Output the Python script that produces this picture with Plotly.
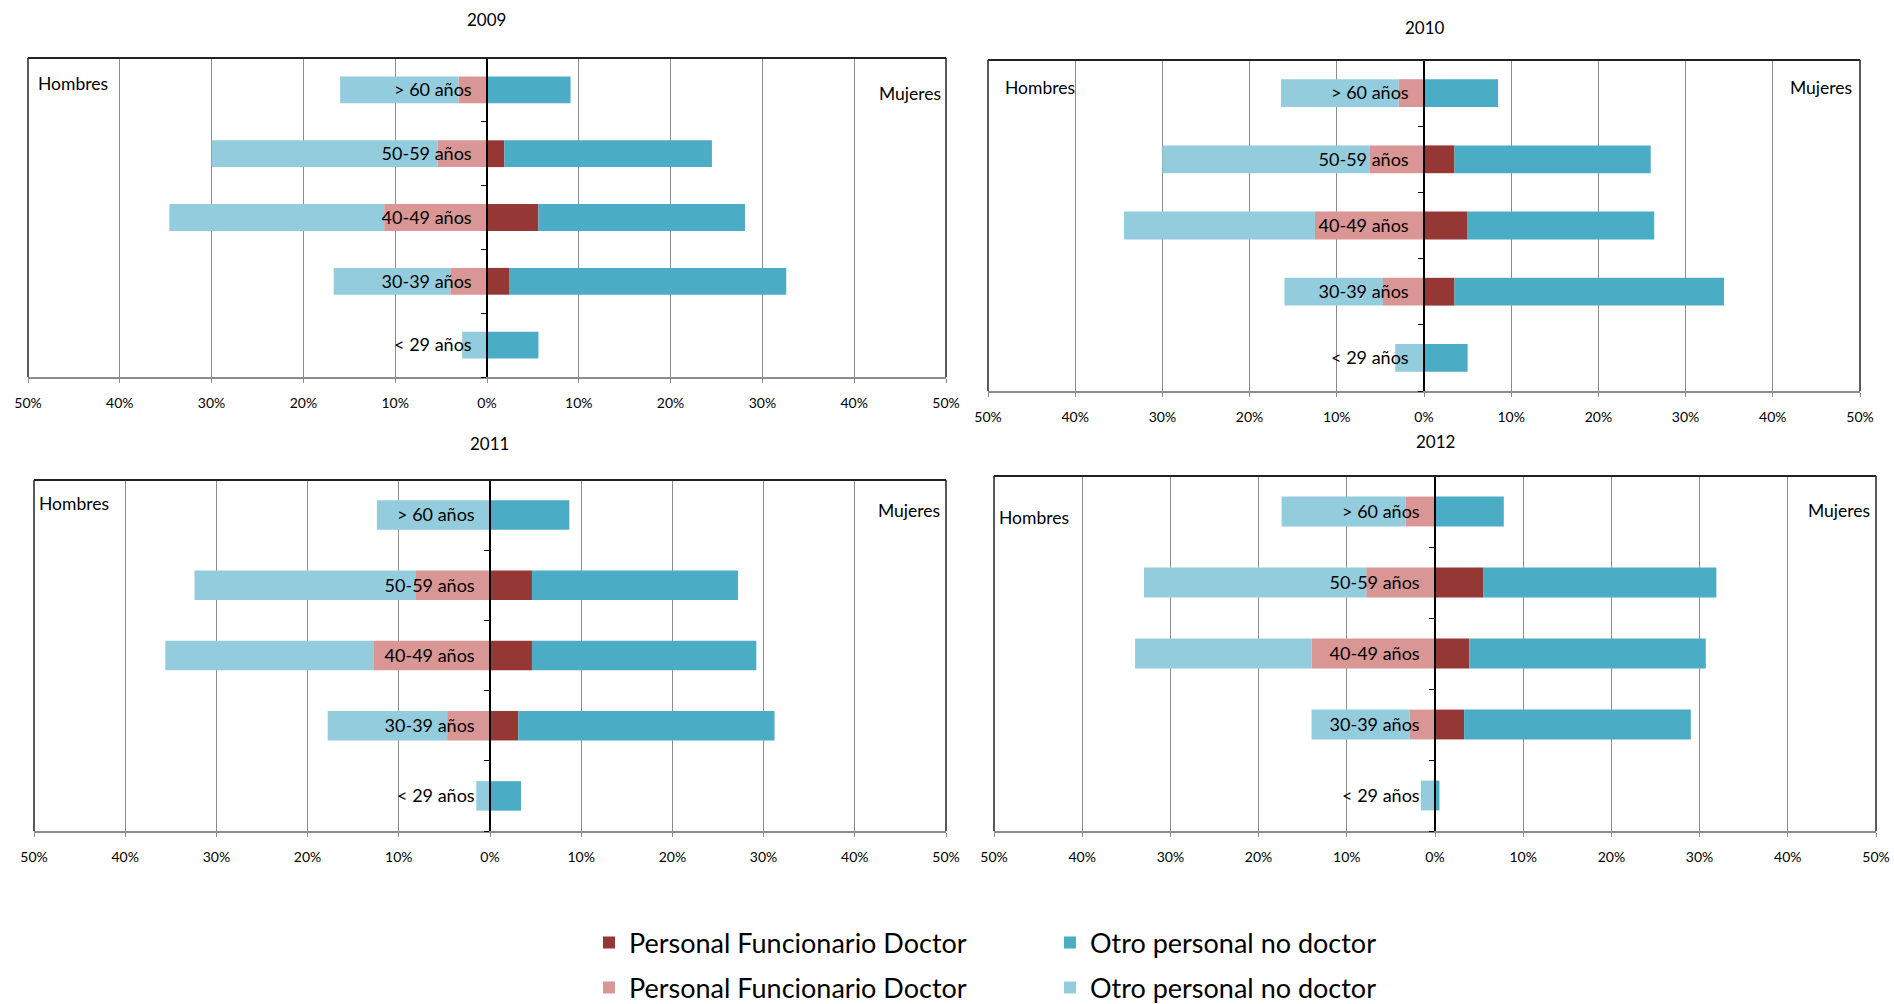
import plotly.graph_objects as go

# ---------------- data ----------------
categories = ["< 29 años", "30-39 años", "40-49 años", "50-59 años", "> 60 años"]
years = ["2009", "2010", "2011", "2012"]

# Hombres (left side), % values
men_fd_2009 = [0, 4.0, 11.2, 5.4, 3.1]
men_other_2009 = [2.7, 12.7, 23.4, 24.6, 12.9]
women_fd_2009 = [0, 2.4, 5.6, 1.9, 0]
women_other_2009 = [5.6, 30.2, 22.5, 22.6, 9.1]

men_fd_2010 = [0, 4.7, 12.5, 6.2, 2.9]
men_other_2010 = [3.3, 11.3, 21.9, 23.8, 13.5]
women_fd_2010 = [0, 3.5, 5.0, 3.5, 0]
women_other_2010 = [5.0, 30.9, 21.4, 22.5, 8.5]

men_fd_2011 = [0, 4.7, 12.8, 8.2, 0]
men_other_2011 = [1.5, 13.1, 22.8, 24.2, 12.4]
women_fd_2011 = [0, 3.1, 4.6, 4.6, 0]
women_other_2011 = [3.4, 28.1, 24.6, 22.6, 8.7]

men_fd_2012 = [0, 2.9, 14.0, 7.8, 3.3]
men_other_2012 = [1.6, 11.1, 20.0, 25.2, 14.1]
women_fd_2012 = [0, 3.3, 3.9, 5.5, 0]
women_other_2012 = [0.5, 25.7, 26.8, 26.4, 7.8]

tick_vals = [-50, -40, -30, -20, -10, 0, 10, 20, 30, 40, 50]
tick_text = ["50%", "40%", "30%", "20%", "10%", "0%", "10%", "20%", "30%", "40%", "50%"]

series_names = ["Personal Funcionario Doctor", "Otro personal no doctor"]

data = {
    "2009": (men_fd_2009, men_other_2009, women_fd_2009, women_other_2009),
    "2010": (men_fd_2010, men_other_2010, women_fd_2010, women_other_2010),
    "2011": (men_fd_2011, men_other_2011, women_fd_2011, women_other_2011),
    "2012": (men_fd_2012, men_other_2012, women_fd_2012, women_other_2012),
}

# ---------------- styling ----------------
W, H = 1894, 1004
C_DARKRED = "#953735"
C_PINK = "#D99694"
C_TEAL = "#4BACC6"
C_LIGHTBLUE = "#93CDDD"
FONT = "Lato, 'Liberation Sans', Arial, sans-serif"

# panel boxes in pixels: left, right, top, bottom
panels = [
    (28, 946, 58, 377),
    (988, 1860, 60, 391),
    (34, 946, 480, 831),
    (994, 1876, 476, 831),
]
title_pos = [(487, 20), (1425, 28), (489, 443), (1435, 441)]
# Hombres (left offset, top offset), Mujeres (right offset, top offset)
hombres_off = [(8, 25), (15, 27), (3, 23), (3, 41)]
mujeres_off = [(3, 35), (6, 27), (4, 30), (4, 34)]

fig = go.Figure()
layout = dict(
    template="none",
    width=W, height=H,
    margin=dict(l=0, r=0, t=0, b=0, autoexpand=False),
    paper_bgcolor="white", plot_bgcolor="white",
    barmode="relative", bargap=0.58,
    font=dict(family=FONT, color="black"),
    showlegend=True,
)
annotations = []
shapes = []

for i, yr in enumerate(years):
    n = i + 1
    sfx = "" if n == 1 else str(n)
    xa, ya = "x" + sfx, "y" + sfx
    l, r, t, b = panels[i]
    xdom = [l / W, r / W]
    ydom = [1 - b / H, 1 - t / H]
    mfd, mot, wfd, wot = data[yr]
    show = (n == 1)
    fig.add_trace(go.Bar(y=categories, x=[-v for v in mfd], orientation="h",
                         marker=dict(color=C_PINK, line=dict(width=0)),
                         name=series_names[0], legend="legend2", legendrank=1,
                         showlegend=show, xaxis=xa, yaxis=ya))
    fig.add_trace(go.Bar(y=categories, x=[-v for v in mot], orientation="h",
                         marker=dict(color=C_LIGHTBLUE, line=dict(width=0)),
                         name=series_names[1], legend="legend2", legendrank=2,
                         showlegend=show, xaxis=xa, yaxis=ya))
    fig.add_trace(go.Bar(y=categories, x=wfd, orientation="h",
                         marker=dict(color=C_DARKRED, line=dict(width=0)),
                         name=series_names[0], legend="legend", legendrank=1,
                         showlegend=show, xaxis=xa, yaxis=ya))
    fig.add_trace(go.Bar(y=categories, x=wot, orientation="h",
                         marker=dict(color=C_TEAL, line=dict(width=0)),
                         name=series_names[1], legend="legend", legendrank=2,
                         showlegend=show, xaxis=xa, yaxis=ya))

    layout["xaxis" + sfx] = dict(
        domain=xdom, anchor=ya, range=[-50, 50], automargin=False,
        tickvals=tick_vals, ticktext=tick_text,
        showgrid=True, gridcolor="#8c8c8c", gridwidth=1,
        zeroline=False,
        showline=True, linecolor="#8c8c8c", linewidth=2,
        ticks="outside", ticklen=4, tickcolor="#8c8c8c",
        tickfont=dict(size=14, family=FONT),
        ticklabelstandoff=8,
        fixedrange=True,
    )
    layout["yaxis" + sfx] = dict(
        domain=ydom, anchor="free", position=(xdom[0] + xdom[1]) / 2,
        automargin=False,
        type="category", categoryorder="array", categoryarray=categories,
        range=[-0.5, 4.5],
        showgrid=False, zeroline=False,
        showline=True, linecolor="black", linewidth=1.5,
        ticks="outside", tickson="boundaries", ticklen=5, tickcolor="black",
        tickfont=dict(size=18, family=FONT),
        ticklabelstandoff=11,
        layer="above traces",
        fixedrange=True,
    )
    # frame: top, left, right
    xref = xa + " domain"
    yref = ya + " domain"
    shapes.append(dict(type="line", xref=xref, yref=yref, x0=0, x1=1, y0=1, y1=1,
                       line=dict(color="#222", width=2)))
    shapes.append(dict(type="line", xref=xref, yref=yref, x0=0, x1=0, y0=0, y1=1,
                       line=dict(color="#222", width=1.5)))
    shapes.append(dict(type="line", xref=xref, yref=yref, x0=1, x1=1, y0=0, y1=1,
                       line=dict(color="#222", width=1.5)))

    # titles
    tx, ty = title_pos[i]
    annotations.append(dict(text=yr, x=tx / W, y=1 - ty / H, xref="paper", yref="paper",
                            xanchor="center", yanchor="middle", showarrow=False,
                            font=dict(size=17, family=FONT)))
    ho = hombres_off[i]
    annotations.append(dict(text="Hombres", x=(l + ho[0]) / W, y=1 - (t + ho[1]) / H,
                            xref="paper", yref="paper", xanchor="left", yanchor="middle",
                            showarrow=False, font=dict(size=17.5, family=FONT)))
    mo = mujeres_off[i]
    annotations.append(dict(text="Mujeres", x=(r - mo[0]) / W, y=1 - (t + mo[1]) / H,
                            xref="paper", yref="paper", xanchor="right", yanchor="middle",
                            showarrow=False, font=dict(size=17.5, family=FONT)))

layout["annotations"] = annotations
layout["shapes"] = shapes
legend_common = dict(
    orientation="h", xanchor="left", yanchor="middle",
    entrywidth=416, entrywidthmode="pixels",
    font=dict(size=27, family=FONT, color="black"),
    bgcolor="rgba(0,0,0,0)", borderwidth=0, traceorder="normal",
)
layout["legend"] = dict(legend_common, x=589 / W, y=1 - 943 / H)
layout["legend2"] = dict(legend_common, x=589 / W, y=1 - 988 / H)
fig.update_layout(**layout)
fig.write_html(
    "out.html",
    config={"displayModeBar": False},
    post_script="document.body.style.margin='0';document.body.style.overflow='hidden';",
)
